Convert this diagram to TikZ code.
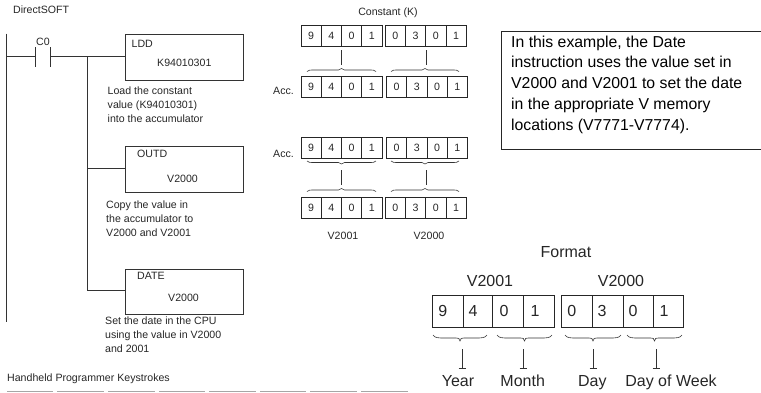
\documentclass[tikz,border=0pt]{standalone}
\usepackage{fontspec}
\setmainfont{Liberation Sans}
\newcommand{\regrow}[3]{%
  \draw[cellrow] (#1,#2) rectangle ++(81,21);
  \foreach \i in {1,2,3} \draw[cellrow] ({#1+\i*20.25},#2) -- ++(0,21);
  \foreach \d [count=\i from 0] in {#3}
    \node[lbl] at ({#1+10.1+\i*20.25},#2+10.5) {\d};}
\newcommand{\brcup}[3]{%
  \draw[brc] (#1,#3+1.5) .. controls (#1+1,#3) and (#1+3,#3) .. (#1+8,#3) -- ({(#1+#2)/2-3},#3) .. controls ({(#1+#2)/2-1},#3) .. ({(#1+#2)/2},#3-1.5) .. controls ({(#1+#2)/2+1},#3) .. ({(#1+#2)/2+3},#3) -- (#2-8,#3) .. controls (#2-3,#3) and (#2-1,#3) .. (#2,#3+1.5);}
\newcommand{\brcdn}[3]{%
  \draw[brc] (#1,#3-1.5) .. controls (#1+1,#3) and (#1+3,#3) .. (#1+8,#3) -- ({(#1+#2)/2-3},#3) .. controls ({(#1+#2)/2-1},#3) .. ({(#1+#2)/2},#3+1.5) .. controls ({(#1+#2)/2+1},#3) .. ({(#1+#2)/2+3},#3) -- (#2-8,#3) .. controls (#2-3,#3) and (#2-1,#3) .. (#2,#3-1.5);}
\newcommand{\brcbig}[3]{%
  \draw[brc] (#1,#3-3) .. controls (#1+2,#3) and (#1+5,#3) .. (#1+12,#3) -- ({(#1+#2)/2-4},#3) .. controls ({(#1+#2)/2-1},#3) .. ({(#1+#2)/2},#3+3) .. controls ({(#1+#2)/2+1},#3) .. ({(#1+#2)/2+4},#3) -- (#2-12,#3) .. controls (#2-5,#3) and (#2-2,#3) .. (#2,#3-3);}
\newcommand{\tee}[1]{%
  \draw[wire] (#1,349) -- (#1,368.5) (#1-3.5,368.5) -- (#1+3.5,368.5);}
\begin{document}
\begin{tikzpicture}[x=1pt,y=-1pt,
  wire/.style={line width=0.9pt,color=black!80},
  txt/.style={inner sep=0pt,anchor=west,text height=7.6pt,text depth=2.2pt,font=\fontsize{10.6}{12}\selectfont,color=black!85},
  lbl/.style={inner sep=0pt,font=\fontsize{10.6}{12}\selectfont,color=black!85},
  fmt/.style={inner sep=0pt,font=\fontsize{16}{18}\selectfont,color=black!85},
  fmtl/.style={fmt,text height=11.5pt,text depth=3.4pt},
  note/.style={inner sep=0pt,anchor=west,text height=11.4pt,text depth=3.4pt,font=\fontsize{15.8}{18}\selectfont,color=black},
  cellrow/.style={line width=0.8pt,color=black!85},
  brc/.style={line width=0.6pt,color=black!80},
  keycap/.style={fill=black!35,draw=none}]
\useasboundingbox (0,0) rectangle (761,392);
% ladder
\draw[wire] (6,33.5) -- (6,322);
\draw[wire] (6,56.5) -- (35,56.5) (35,47) -- (35,67);
\draw[wire] (50,47) -- (50,67) (50,56.5) -- (125,56.5);
\draw[wire] (87,56.5) -- (87,290.5) -- (125,290.5);
\draw[wire] (87,168.5) -- (125,168.5);
\node[lbl] (c0) at (43,42) {C0};
\node[txt] (title) at (13,11) {DirectSOFT};
\draw[wire] (125,34) rectangle (243,80);
\draw[wire] (125,146) rectangle (243,192.5);
\draw[wire] (125,269) rectangle (243,314);
\node[txt] (ldd) at (131.5,44.5) {LDD};
\node[txt] (k) at (157,63.5) {K94010301};
\node[txt] (outd) at (137,155) {OUTD};
\node[txt] (v1) at (167,179.5) {V2000};
\node[txt] (date) at (137,277) {DATE};
\node[txt] (v2) at (168,299) {V2000};
\node[txt] (l1) at (107.5,91.5) {Load the constant};
\node[txt] (l2) at (107.5,105.5) {value (K94010301)};
\node[txt] (l3) at (107.5,119.5) {into the accumulator};
\node[txt] (c1) at (106,206) {Copy the value in};
\node[txt] (c2) at (106,220) {the accumulator to};
\node[txt] (c3) at (106,234) {V2000 and V2001};
\node[txt] (s1) at (105,322) {Set the date in the CPU};
\node[txt] (s2) at (105,336) {using the value in V2000};
\node[txt] (s3) at (105,350) {and 2001};
\node[txt] (hp) at (7,379) {Handheld Programmer Keystrokes};
\foreach \x in {6.7,57.3,107.9,158.5,209.1,259.7,310.3,360.9}
  \fill[keycap] (\x,391) rectangle ++(46.7,1);
% small registers
\regrow{301}{25}{9,4,0,1}
\regrow{385.2}{25}{0,3,0,1}
\regrow{301}{76}{9,4,0,1}
\regrow{386.5}{76}{0,3,0,1}
\regrow{301}{137}{9,4,0,1}
\regrow{386.5}{137}{0,3,0,1}
\regrow{301}{197}{9,4,0,1}
\regrow{385.2}{197}{0,3,0,1}
\node[lbl] (konst) at (388,13) {Constant (K)};
\node[lbl,anchor=east] (acc1) at (294,91) {Acc.};
\node[lbl,anchor=east] (acc2) at (294,154) {Acc.};
\node[lbl] (v2001) at (343,236) {V2001};
\node[lbl] (v2000) at (429,236) {V2000};
\brcup{307}{376}{70}
\brcup{391}{459}{70}
\draw[wire] (341.7,50) -- (341.7,65);
\draw[wire] (426.7,50) -- (426.7,65);
\brcdn{307}{376}{162.5}
\brcdn{391}{459}{162.5}
\draw[wire] (341.7,170) -- (341.7,185);
\draw[wire] (426.7,170) -- (426.7,185);
\brcup{307}{376}{190}
\brcup{391}{459}{190}
% note
\draw[line width=0.8pt,color=black!85] (761,31) -- (501,31) -- (501,149) -- (761,149);
\node[note] (n1) at (511,43) {In this example, the Date};
\node[note] (n2) at (511,63.5) {instruction uses the value set in};
\node[note] (n3) at (511,84) {V2000 and V2001 to set the date};
\node[note] (n4) at (511,105) {in the appropriate V memory};
\node[note] (n5) at (511,126) {locations (V7771-V7774).};
% format
\node[fmtl] (fmtt) at (566,253) {Format};
\node[fmtl] (v01) at (490,282) {V2001};
\node[fmtl] (v00) at (621,282) {V2000};
\draw[cellrow] (432,295) rectangle (554.3,327.7);
\draw[cellrow] (561,295) rectangle (683.3,327.7);
\foreach \x in {463,492.3,523} \draw[cellrow] (\x,295) -- (\x,327.7);
\foreach \x in {592,623,653.7} \draw[cellrow] (\x,295) -- (\x,327.7);
\foreach \x/\d in {442.7/9,473/4,504/0,535/1,571.7/0,602/3,633/0,664/1}
  \node[fmt] at (\x,311) {\d};
\brcbig{433}{487}{338}
\brcbig{497}{552}{338}
\brcbig{565}{621}{338}
\brcbig{627}{682}{338}
\tee{462}
\tee{523}
\tee{593}
\tee{656}
\node[fmtl] (yr) at (458,382) {Year};
\node[fmtl] (mo) at (522.7,382) {Month};
\node[fmtl] (dy) at (592.3,382) {Day};
\node[fmtl] (dw) at (671,382) {Day of Week};
\end{tikzpicture}
\end{document}
